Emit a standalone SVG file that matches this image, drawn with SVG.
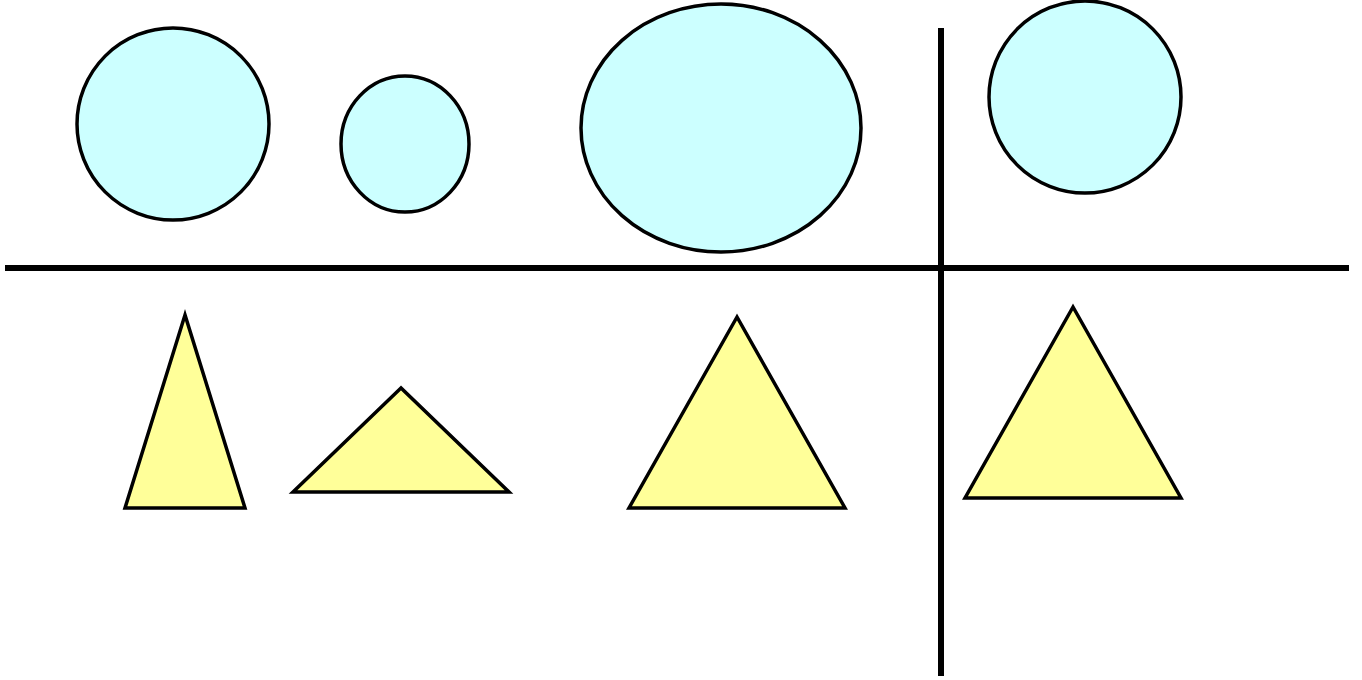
<svg xmlns="http://www.w3.org/2000/svg" width="1362" height="680" viewBox="0 0 1362 680">
<style>
.c{fill:#CCFFFF;stroke:#000;stroke-width:3.5}
.t{fill:#FFFF99;stroke:#000;stroke-width:3.5;stroke-linejoin:miter}
.l{stroke:#000;stroke-width:6;fill:none}
</style>
<rect width="1362" height="680" fill="#fff"/>
<g id="lines">
<line class="l" x1="5" y1="268" x2="1349" y2="268"/>
<line class="l" x1="941" y1="28" x2="941" y2="676"/>
</g>
<g id="circle1"><ellipse class="c" cx="173" cy="124" rx="96" ry="96"/></g>
<g id="circle2"><ellipse class="c" cx="405" cy="144" rx="64" ry="68"/></g>
<g id="circle3"><ellipse class="c" cx="721" cy="128" rx="140" ry="124"/></g>
<g id="circle4"><ellipse class="c" cx="1085" cy="97" rx="96" ry="96"/></g>
<g id="tri1"><polygon class="t" points="185,315 125,508 245,508"/></g>
<g id="tri2"><polygon class="t" points="401,388 293,492 509,492"/></g>
<g id="tri3"><polygon class="t" points="737,317 629,508 845,508"/></g>
<g id="tri4"><polygon class="t" points="1073,307 965,498 1181,498"/></g>
</svg>
